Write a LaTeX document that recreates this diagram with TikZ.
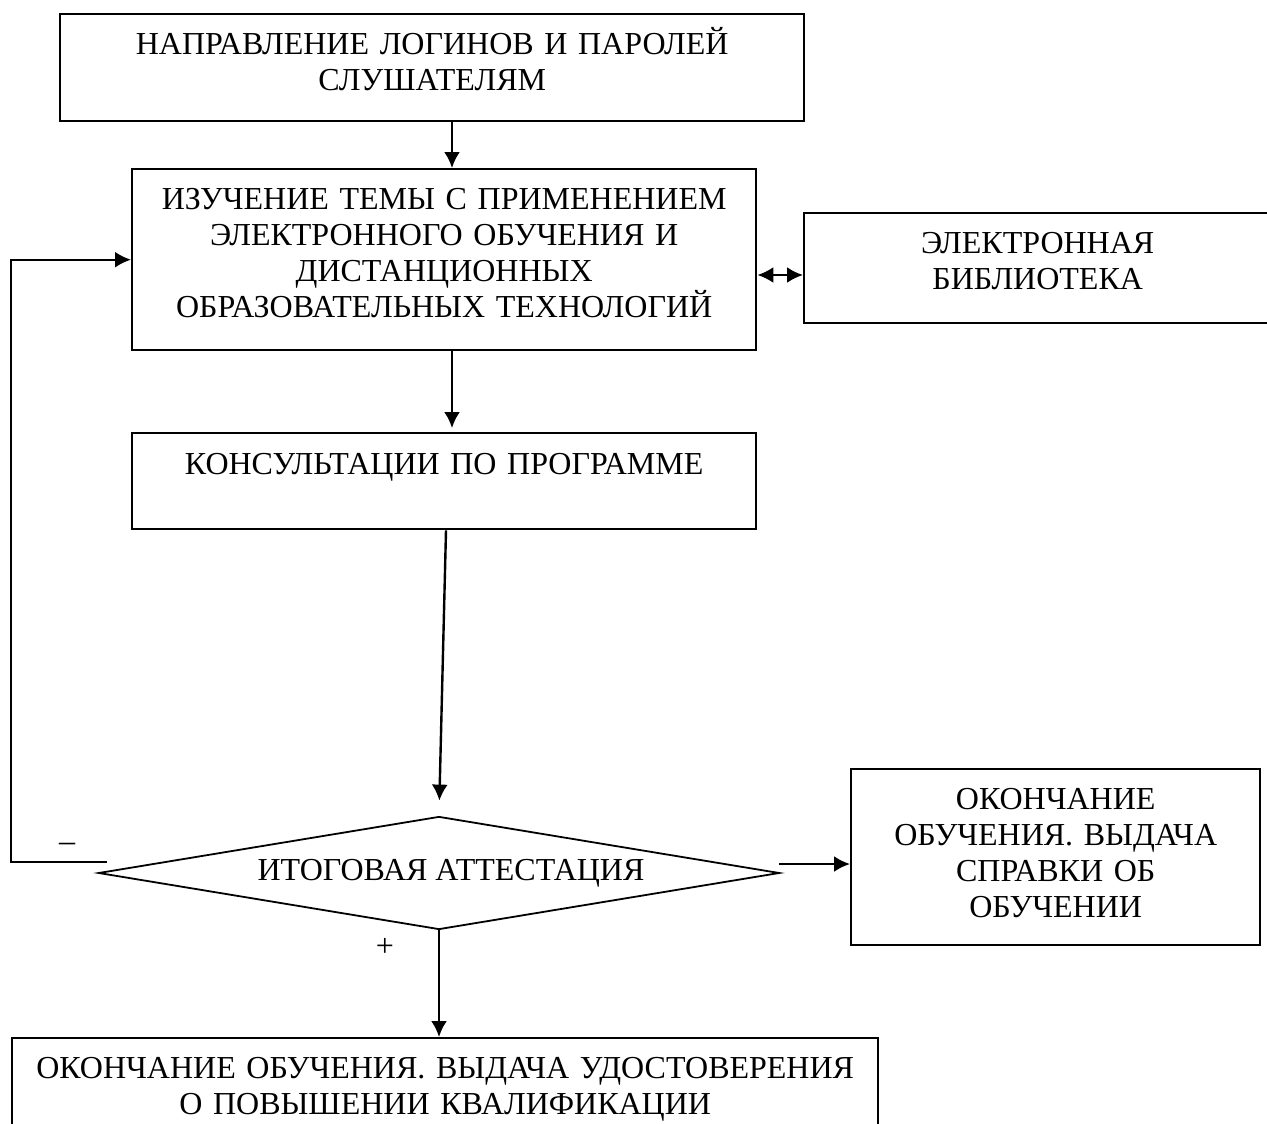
\documentclass[tikz,border=0pt]{standalone}
\usepackage{fontspec}
\setmainfont{Liberation Serif}
\usetikzlibrary{shapes.geometric,arrows.meta}
\tikzset{
  box/.style={draw,line width=2.4pt,inner sep=0pt,align=center,anchor=north west,
    font=\fontsize{32}{36}\selectfont},
  dgbox/.style={draw,diamond,line width=1.8pt,inner sep=0pt,aspect=6,
    minimum width=681pt,minimum height=113pt,font=\fontsize{32}{36}\selectfont}
}
\begin{document}
\begin{tikzpicture}[x=1pt,y=-1pt,>={Latex[length=16pt,width=16pt]},line width=2.4pt]
\useasboundingbox (0,0) rectangle (1267,1124);

\node[box,text width=744pt,text height=40pt,text depth=67pt] (lgn) at (59,13)
  {НАПРАВЛЕНИЕ ЛОГИНОВ И ПАРОЛЕЙ\\ СЛУШАТЕЛЯМ};
\node[box,text width=624pt,text height=40pt,text depth=141pt] (izu) at (131,168)
  {ИЗУЧЕНИЕ ТЕМЫ С ПРИМЕНЕНИЕМ\\ ЭЛЕКТРОННОГО ОБУЧЕНИЯ И\\ ДИСТАНЦИОННЫХ\\ ОБРАЗОВАТЕЛЬНЫХ ТЕХНОЛОГИЙ};
\node[box,text width=467pt,text height=40pt,text depth=70pt] (lib) at (803,212)
  {ЭЛЕКТРОННАЯ\\ БИБЛИОТЕКА};
\node[box,text width=624pt,text height=41pt,text depth=55pt] (kons) at (131,432)
  {КОНСУЛЬТАЦИИ ПО ПРОГРАММЕ};
\node[dgbox] (dg) at (439,873) {\hspace*{24pt}ИТОГОВАЯ АТТЕСТАЦИЯ};
\node[box,text width=409pt,text height=40pt,text depth=136pt] (endspr) at (850,768)
  {ОКОНЧАНИЕ\\ ОБУЧЕНИЯ. ВЫДАЧА\\ СПРАВКИ ОБ\\ ОБУЧЕНИИ};
\node[box,text width=866pt,text height=40pt,text depth=73pt] (endud) at (11,1037)
  {ОКОНЧАНИЕ ОБУЧЕНИЯ. ВЫДАЧА УДОСТОВЕРЕНИЯ\\ О ПОВЫШЕНИИ КВАЛИФИКАЦИИ};

% arrows
\coordinate (ax) at (452,0);
\coordinate (ax2) at (446,0);
\coordinate (lk) at (0,275);
\coordinate (out) at (779,864);
\coordinate (fb) at (107,862);
\draw[->] (lgn.south -| ax) -- (izu.north -| ax);
\draw[->] (izu.south -| ax) -- ([yshift=4pt]kons.north -| ax);
\draw[<->] (izu.east |- lk) -- (lib.west |- lk);
\draw[->,shorten >=15pt] (kons.south -| ax2) -- (dg.north);
\draw[->] (out) -- (endspr.west |- out);
\draw[->] (dg.south) -- (endud.north -| dg.south);
\draw[->] (fb) -- (fb -| endud.west) |- (izu.west);

\node[font=\fontsize{32}{36}\selectfont] (minus) at (67,847) {–};
\node[font=\fontsize{32}{36}\selectfont] (plus) at (385,947) {+};
\end{tikzpicture}
\end{document}
